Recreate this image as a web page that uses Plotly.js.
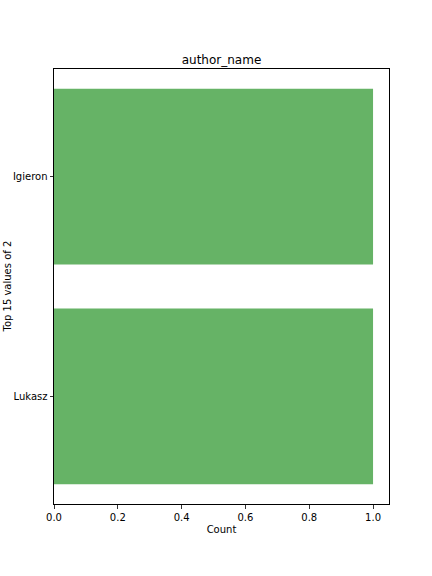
<!DOCTYPE html>
<html><head><meta charset="utf-8">
<script src="https://cdn.plot.ly/plotly-3.0.1.min.js"></script>
<style>html,body{margin:0;padding:0;background:#fff}</style>
</head><body>
<div id="chart" style="width:432px;height:576px"></div>
<script>
const categories = ["Igieron", "Lukasz"];
const counts = [1, 1];
const xTicks = [0, 0.2, 0.4, 0.6, 0.8, 1.0];

const trace = {
  type: "bar",
  orientation: "h",
  y: categories,
  x: counts,
  width: 0.8,
  marker: {color: "rgba(0,128,0,0.6)", line: {width: 0}},
  hoverinfo: "skip"
};

const font = {family: "DejaVu Sans, sans-serif", size: 10, color: "#000"};
const layout = {
  width: 432, height: 576,
  margin: {l: 54, r: 43, t: 69, b: 72, pad: 0},
  paper_bgcolor: "#fff", plot_bgcolor: "#fff",
  font: font,
  showlegend: false,
  title: {text: "author_name", font: {family: "DejaVu Sans, sans-serif", size: 12, color: "#000"},
          x: 0.5, xref: "paper", xanchor: "center", y: 1 - 60/576, yanchor: "middle"},
  xaxis: {
    range: [0, 1.05], tickvals: xTicks, tickformat: ".1f",
    ticks: "outside", ticklen: 3.5, tickwidth: 0.8, tickcolor: "#000",
    showline: true, linecolor: "#000", linewidth: 1, mirror: true,
    showgrid: false, zeroline: false,
    title: {text: "Count", font: font, standoff: 4},
    tickfont: font
  },
  yaxis: {
    type: "category", categoryorder: "array", categoryarray: categories,
    range: [1.49, -0.49],
    ticks: "outside", ticklen: 3.5, tickwidth: 0.8, tickcolor: "#000",
    showline: true, linecolor: "#000", linewidth: 1, mirror: true,
    showgrid: false, zeroline: false, tickfont: font
  },
  annotations: [{
    text: "Top 15 values of 2", textangle: -90, showarrow: false,
    xref: "paper", yref: "paper", x: (7 - 54) / 335, y: 0.5,
    xanchor: "center", yanchor: "middle", font: font
  }]
};

Plotly.newPlot("chart", [trace], layout, {staticPlot: true, displayModeBar: false});
</script>
</body></html>
